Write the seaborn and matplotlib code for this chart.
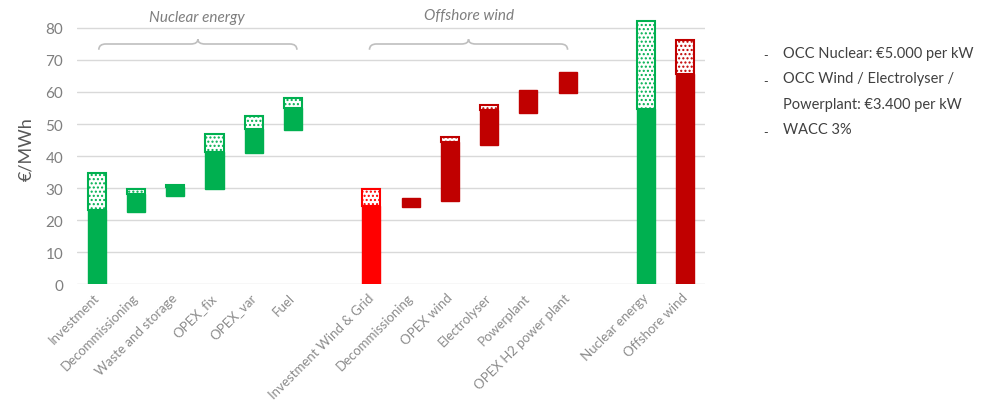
import numpy as np
import pandas as pd
import seaborn as sns
import matplotlib.pyplot as plt
from matplotlib.path import Path
from matplotlib.patches import PathPatch

sns.set_style("white")
plt.rcParams['font.family'] = ['Lato', 'DejaVu Sans']
plt.rcParams['hatch.linewidth'] = 1.0

# --- data (EUR/MWh) ---
nuclear_items = ["Investment", "Decommissioning", "Waste and storage", "OPEX_fix", "OPEX_var", "Fuel"]
nuclear_base = [0, 22.5, 27.5, 29.7, 41.0, 48.0]
nuclear_solid = [23.0, 28.0, 30.3, 41.3, 48.5, 55.0]
nuclear_top = [34.7, 29.8, 31.0, 47.0, 52.5, 58.2]

wind_items = ["Investment Wind & Grid", "Decommissioning", "OPEX wind", "Electrolyser", "Powerplant", "OPEX H2 power plant"]
wind_base = [0, 24.0, 26.0, 43.5, 53.5, 59.6]
wind_solid = [24.5, 26.8, 44.5, 54.5, 60.7, 66.3]
wind_top = [29.8, 26.8, 45.8, 56.0, 60.7, 66.3]

total_items = ["Nuclear energy", "Offshore wind"]
total_solid = [54.7, 65.6]
total_top = [82.2, 76.4]

notes = ["OCC Nuclear: €5.000 per kW", "OCC Wind / Electrolyser /",
         "Powerplant: €3.400 per kW", "WACC 3%"]
note_bullets = [True, True, False, True]

GREEN = "#00b050"
RED = "#ff0000"
DARKRED = "#c00000"

# one table, keyed so that the two "Decommissioning" bars stay apart
keys = [f"n{i}" for i in range(6)] + [f"w{i}" for i in range(6)] + ["tn", "tw"]
df = pd.DataFrame({
    "key": keys,
    "label": nuclear_items + wind_items + total_items,
    "base": nuclear_base + wind_base + [0, 0],
    "solid": nuclear_solid + wind_solid + total_solid,
    "top": nuclear_top + wind_top + total_top,
    "color": [GREEN] * 6 + [RED] + [DARKRED] * 5 + [GREEN, DARKRED],
})
df["solid_h"] = df["solid"] - df["base"]
df["pat_h"] = df["top"] - df["solid"]

order = keys[:6] + ["gap1"] + keys[6:12] + ["gap2"] + keys[12:]
tick_labels = nuclear_items + [""] + wind_items + [""] + total_items

fig, ax = plt.subplots(figsize=(9.9, 4.06), dpi=100)
fig.subplots_adjust(left=0.078, right=0.712, bottom=0.298, top=0.968)

# solid part of every bar
sns.barplot(data=df, x="key", y="solid_h", order=order, bottom=df["base"].values,
            width=0.46, errorbar=None, color=GREEN, ax=ax, zorder=2)
n_solid = len(ax.patches)
for patch, c in zip(ax.patches[:n_solid], df["color"]):
    patch.set_facecolor(c)
    patch.set_edgecolor(c)
    patch.set_linewidth(1)

# patterned (uncertainty) part on top
pat = df[df["pat_h"] > 0]
sns.barplot(data=pat, x="key", y="pat_h", order=order, bottom=pat["solid"].values,
            width=0.46, errorbar=None, color="white", ax=ax, zorder=2)
for patch, c in zip(ax.patches[n_solid:], pat["color"]):
    patch.set_facecolor("white")
    patch.set_edgecolor(c)
    patch.set_hatch("....")
    patch.set_linewidth(1.5)

ax.set_ylim(0, 85)
ax.set_xlim(-0.5, len(order) - 0.5)
ax.set_yticks(range(0, 81, 10))
ax.yaxis.grid(True, color="#d9d9d9", linewidth=1)
ax.set_axisbelow(True)
for s in ax.spines.values():
    s.set_visible(False)
ax.tick_params(axis="both", length=0)
ax.tick_params(axis="y", labelsize=11, labelcolor="#7f7f7f", pad=10)
ax.tick_params(axis="x", pad=8)
ax.set_xticks(range(len(order)))
ax.set_xticklabels(tick_labels, rotation=45, ha="right", va="center",
                   rotation_mode="anchor", fontsize=9.5, color="#8c8c8c")
ax.set_xlabel("")
ax.set_ylabel("€/MWh", fontsize=13, color="#595959", labelpad=8)


def brace(ax, x0, x1, y, h=1.8, bump=1.5):
    xm = (x0 + x1) / 2
    d = 0.18
    verts = [(x0, y - h), (x0, y), (x0 + d, y),
             (xm - d, y),
             (xm, y), (xm, y + bump),
             (xm, y), (xm + d, y),
             (x1 - d, y),
             (x1, y), (x1, y - h)]
    codes = [Path.MOVETO, Path.CURVE3, Path.CURVE3,
             Path.LINETO,
             Path.CURVE3, Path.CURVE3,
             Path.CURVE3, Path.CURVE3,
             Path.LINETO,
             Path.CURVE3, Path.CURVE3]
    ax.add_patch(PathPatch(Path(verts, codes), fill=False, edgecolor="#bfbfbf",
                           linewidth=1.2, clip_on=False, zorder=3))


n0, n1 = order.index("n0"), order.index("n5")
w0, w1 = order.index("w0"), order.index("w5")
brace(ax, n0 + 0.05, n1 + 0.1, 75)
brace(ax, w0 - 0.05, w1 + 0.0, 75)
ax.text((n0 + n1) / 2 + 0.05, 83.5, "Nuclear energy", style="italic", fontsize=11,
        color="#7f7f7f", ha="center", va="center", clip_on=False)
ax.text((w0 + w1) / 2, 84, "Offshore wind", style="italic", fontsize=11,
        color="#7f7f7f", ha="center", va="center", clip_on=False)

# notes at the right
y = 1 - 58 / 406
for txt, b in zip(notes, note_bullets):
    if b:
        fig.text(0.771, y - 0.006, "-", fontsize=9, color="#404040", va="baseline")
    fig.text(0.791, y, txt, fontsize=10.5, color="#404040", va="baseline")
    y -= 25.5 / 406

fig.savefig("out.png", dpi=100)
